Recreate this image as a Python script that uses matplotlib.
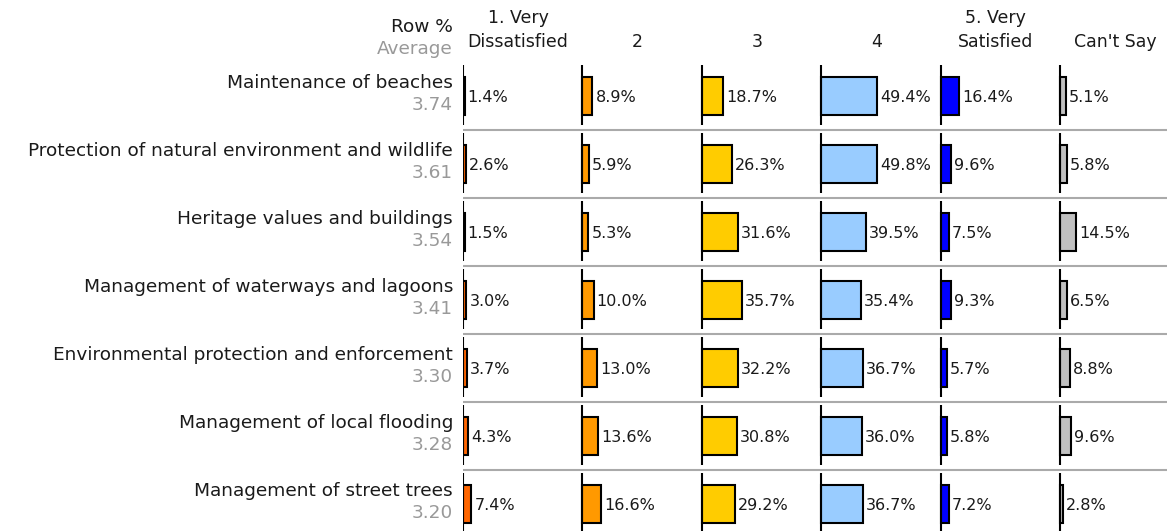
import matplotlib
matplotlib.use("Agg")
import matplotlib.pyplot as plt

categories = [
    "Maintenance of beaches",
    "Protection of natural environment and wildlife",
    "Heritage values and buildings",
    "Management of waterways and lagoons",
    "Environmental protection and enforcement",
    "Management of local flooding",
    "Management of street trees",
]
averages = ["3.74", "3.61", "3.54", "3.41", "3.30", "3.28", "3.20"]
col_labels = ["1. Very\nDissatisfied", "2", "3", "4", "5. Very\nSatisfied", "Can't Say"]
very_dissatisfied = [1.4, 2.6, 1.5, 3.0, 3.7, 4.3, 7.4]
score2 = [8.9, 5.9, 5.3, 10.0, 13.0, 13.6, 16.6]
score3 = [18.7, 26.3, 31.6, 35.7, 32.2, 30.8, 29.2]
score4 = [49.4, 49.8, 39.5, 35.4, 36.7, 36.0, 36.7]
very_satisfied = [16.4, 9.6, 7.5, 9.3, 5.7, 5.8, 7.2]
cant_say = [5.1, 5.8, 14.5, 6.5, 8.8, 9.6, 2.8]
series = [very_dissatisfied, score2, score3, score4, very_satisfied, cant_say]
colors = ["#FF6600", "#FF9900", "#FFCC00", "#99CCFF", "#0000FF", "#C0C0C0"]

W, H = 1167, 531
fig = plt.figure(figsize=(W / 100, H / 100), dpi=100)
plt.rcParams['font.family'] = ['DejaVu Sans']

px_per_unit = 1.13
pitch = 119.4 / px_per_unit
ax_left_px = 463
top_px = 62
row_px = 68
ax = fig.add_axes([ax_left_px / W, 0, 1 - ax_left_px / W, 1 - top_px / H])
ax.set_xlim(0, (W - ax_left_px) / px_per_unit)
ax.set_ylim((H - top_px) / row_px - 0.5, -0.5)
ax.axis("off")

n = len(categories)
fs = 11.5
lab_fs = 13.3
txt = "#1a1a1a"
for j, (vals, c) in enumerate(zip(series, colors)):
    off = j * pitch
    ys = list(range(n))
    ax.barh(ys, vals, left=off, height=0.56, color=c, edgecolor="black", linewidth=1.5)
    for i, v in enumerate(vals):
        ax.plot([off, off], [i - 0.45, i + 0.43], color="black", lw=1.5, solid_capstyle="butt")
        ax.text(off + v + 3 / px_per_unit, i + 0.02, f"{v:.1f}%", va="center", ha="left",
                fontsize=fs, color=txt)
    ax.text(off + 55 / px_per_unit, -0.66, col_labels[j], ha="center", va="bottom",
            fontsize=12.5, color=txt, linespacing=1.45, clip_on=False)

for i in range(n - 1):
    ax.plot([0, ax.get_xlim()[1]], [i + 0.5, i + 0.5], color="#AAAAAA", lw=1.5)

lx = -10 / px_per_unit
for i, (cat, avg) in enumerate(zip(categories, averages)):
    ax.text(lx, i - 0.19, cat, ha="right", va="center", fontsize=lab_fs, color=txt, clip_on=False)
    ax.text(lx, i + 0.13, avg, ha="right", va="center", fontsize=lab_fs, color="#999999", clip_on=False)

ax.text(lx, -1.02, "Row %", ha="right", va="center", fontsize=lab_fs, color=txt, clip_on=False)
ax.text(lx, -0.69, "Average", ha="right", va="center", fontsize=lab_fs, color="#999999", clip_on=False)

fig.savefig("out.png", dpi=100)
